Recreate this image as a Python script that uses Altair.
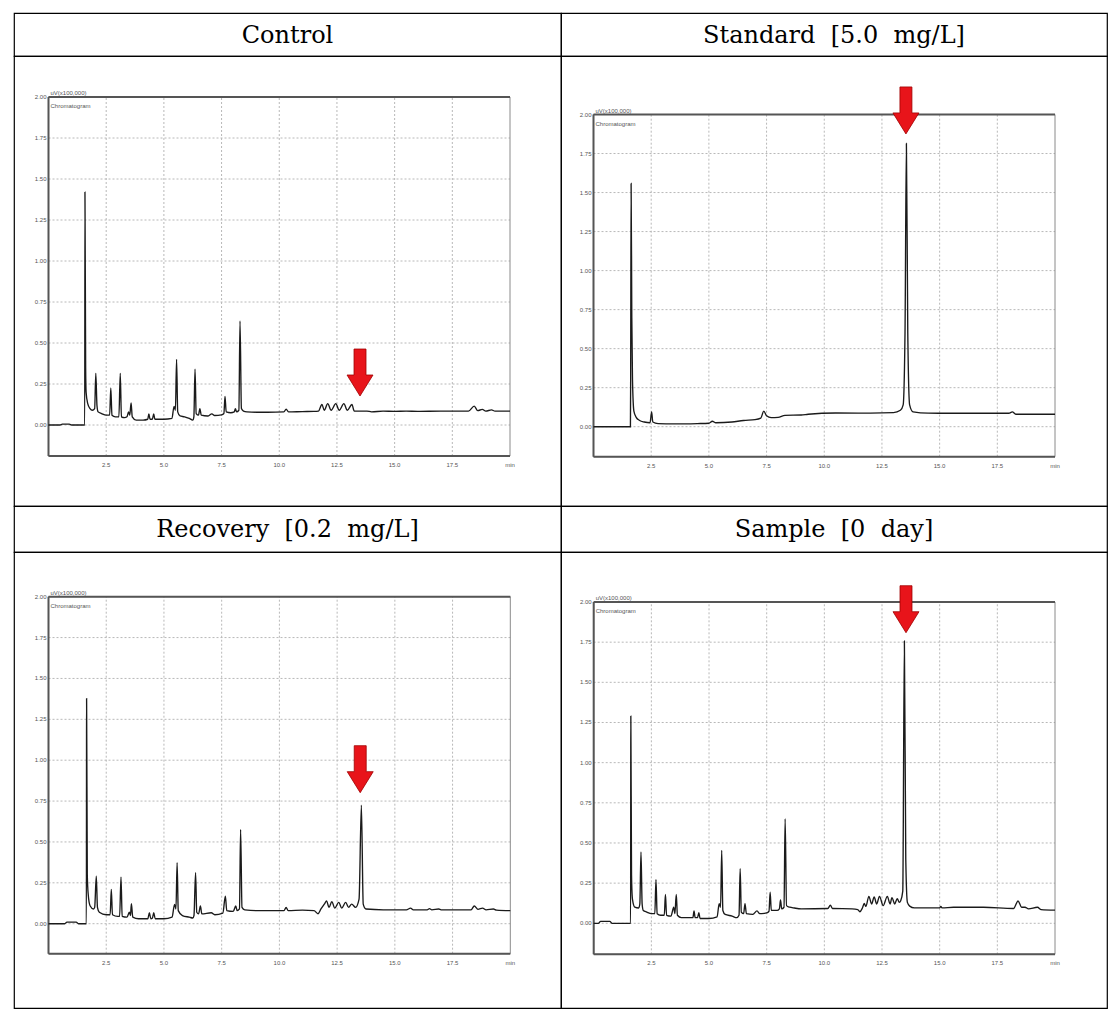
import altair as alt
import pandas as pd

# ---------------- data ----------------
titles = ["Control", "Standard\u00a0 [5.0\u00a0 mg/L]", "Recovery\u00a0 [0.2\u00a0 mg/L]", "Sample\u00a0 [0\u00a0 day]"]

control_t = [0.0, 0.5, 0.6, 0.9, 1.0, 1.57, 1.58, 1.61, 1.63, 1.7, 1.8, 1.9, 2.0, 2.05, 2.1, 2.15, 2.3, 2.5,
             2.65, 2.7, 2.75, 2.9, 3.05, 3.11, 3.16, 3.3, 3.4, 3.47, 3.52, 3.58, 3.63, 3.8, 4.1, 4.3, 4.35,
             4.4, 4.5, 4.56, 4.61, 5.0, 5.35, 5.44, 5.5, 5.55, 5.6, 5.7, 5.9, 6.1, 6.25, 6.3, 6.35, 6.4,
             6.5, 6.56, 6.62, 6.9, 7.08, 7.2, 7.5, 7.6, 7.65, 7.7, 7.9, 8.05, 8.1, 8.15, 8.25, 8.3, 8.36,
             8.45, 8.6, 9.0, 9.5, 10.2, 10.3, 10.4, 11.0, 11.5, 11.7, 11.85, 11.95, 12.1, 12.25, 12.45,
             12.6, 12.8, 12.95, 13.15, 13.25, 13.8, 14.0, 14.5, 15.0, 15.5, 16.0, 17.0, 18.2, 18.45, 18.6,
             18.8, 18.95, 19.2, 19.35, 20.0]
control_v = [0.0, 0.0, 0.005, 0.005, 0.0, 0.0, 1.42, 0.35, 0.2, 0.13, 0.10, 0.09, 0.1, 0.315, 0.12, 0.08,
             0.07, 0.06, 0.06, 0.226, 0.06, 0.05, 0.05, 0.315, 0.05, 0.045, 0.05, 0.08, 0.06, 0.134, 0.05,
             0.03, 0.03, 0.035, 0.068, 0.035, 0.035, 0.068, 0.035, 0.035, 0.04, 0.113, 0.09, 0.40, 0.08,
             0.055, 0.05, 0.04, 0.03, 0.05, 0.34, 0.07, 0.06, 0.10, 0.06, 0.055, 0.068, 0.058, 0.062, 0.07,
             0.175, 0.08, 0.075, 0.08, 0.10, 0.08, 0.09, 0.634, 0.10, 0.085, 0.08, 0.078, 0.078, 0.08,
             0.097, 0.08, 0.082, 0.083, 0.085, 0.125, 0.09, 0.13, 0.09, 0.13, 0.09, 0.13, 0.09, 0.125,
             0.085, 0.085, 0.08, 0.085, 0.083, 0.085, 0.083, 0.085, 0.085, 0.115, 0.088, 0.095, 0.085,
             0.092, 0.085, 0.085]

standard_t = [0.0, 1.6, 1.61, 1.63, 1.66, 1.69, 1.75, 1.85, 2.0, 2.2, 2.45, 2.52, 2.57, 2.8, 3.5, 4.5, 5.0,
              5.15, 5.3, 6.0, 6.5, 7.0, 7.25, 7.38, 7.5, 7.7, 8.0, 8.3, 9.0, 9.3, 10.5, 12.0, 13.0, 13.3,
              13.42, 13.5, 13.56, 13.62, 13.7, 13.85, 14.5, 16.0, 18.0, 18.15, 18.3, 20.0]
standard_v = [0.0, 0.0, 0.3, 1.558, 0.7, 0.3, 0.1, 0.06, 0.04, 0.03, 0.025, 0.094, 0.03, 0.02, 0.018, 0.02,
              0.022, 0.035, 0.025, 0.03, 0.04, 0.045, 0.055, 0.10, 0.07, 0.058, 0.06, 0.073, 0.075, 0.08,
              0.088, 0.087, 0.09, 0.105, 0.14, 0.6, 1.814, 0.6, 0.14, 0.095, 0.087, 0.086, 0.086, 0.095,
              0.08, 0.08]

recovery_t = [0.0, 0.7, 0.8, 1.2, 1.3, 1.64, 1.65, 1.68, 1.72, 1.8, 1.95, 2.0, 2.07, 2.12, 2.2, 2.5, 2.67,
              2.72, 2.77, 3.0, 3.08, 3.14, 3.19, 3.4, 3.5, 3.55, 3.59, 3.65, 3.9, 4.3, 4.37, 4.43, 4.5,
              4.56, 4.62, 5.0, 5.35, 5.46, 5.52, 5.57, 5.62, 5.8, 6.1, 6.25, 6.3, 6.37, 6.42, 6.5, 6.58,
              6.64, 7.05, 7.2, 7.55, 7.66, 7.72, 8.0, 8.11, 8.17, 8.27, 8.32, 8.38, 8.5, 9.0, 10.2, 10.29,
              10.38, 11.0, 11.5, 11.67, 11.8, 11.97, 12.04, 12.15, 12.27, 12.4, 12.57, 12.7, 12.87, 13.0,
              13.13, 13.3, 13.45, 13.55, 13.63, 13.75, 14.5, 15.5, 15.68, 15.8, 16.4, 16.5, 16.6, 16.9,
              17.0, 18.3, 18.44, 18.6, 18.8, 18.95, 19.27, 19.4, 20.0]
recovery_v = [0.0, 0.0, 0.01, 0.01, 0.0, 0.0, 1.377, 0.3, 0.18, 0.11, 0.09, 0.1, 0.291, 0.1, 0.07, 0.055,
              0.055, 0.21, 0.055, 0.045, 0.045, 0.285, 0.045, 0.04, 0.07, 0.05, 0.122, 0.04, 0.03, 0.03,
              0.067, 0.03, 0.035, 0.067, 0.03, 0.03, 0.04, 0.118, 0.09, 0.373, 0.08, 0.05, 0.04, 0.035,
              0.05, 0.312, 0.07, 0.06, 0.108, 0.06, 0.067, 0.055, 0.065, 0.169, 0.08, 0.075, 0.108, 0.08,
              0.09, 0.576, 0.1, 0.085, 0.08, 0.08, 0.10, 0.08, 0.083, 0.08, 0.061, 0.09, 0.125, 0.14, 0.1,
              0.135, 0.095, 0.13, 0.095, 0.13, 0.1, 0.12, 0.1, 0.15, 0.725, 0.12, 0.09, 0.085, 0.085,
              0.095, 0.085, 0.085, 0.092, 0.085, 0.09, 0.085, 0.085, 0.108, 0.088, 0.095, 0.085, 0.09,
              0.083, 0.08]

sample_t = [0.0, 0.2, 0.3, 0.7, 0.8, 1.6, 1.61, 1.64, 1.68, 1.78, 1.95, 2.0, 2.05, 2.1, 2.15, 2.3, 2.5, 2.65,
            2.7, 2.75, 2.9, 3.06, 3.11, 3.16, 3.35, 3.47, 3.52, 3.58, 3.63, 3.8, 4.3, 4.35, 4.4, 4.5, 4.56,
            4.61, 5.0, 5.35, 5.44, 5.5, 5.55, 5.6, 5.7, 6.0, 6.2, 6.3, 6.35, 6.4, 6.5, 6.56, 6.62, 6.9,
            7.08, 7.2, 7.5, 7.6, 7.65, 7.7, 7.95, 8.05, 8.1, 8.15, 8.25, 8.3, 8.36, 8.5, 8.7, 9.0, 10.15,
            10.26, 10.35, 11.2, 11.45, 11.54, 11.65, 11.73, 11.8, 11.93, 12.05, 12.16, 12.27, 12.39, 12.55,
            12.73, 12.85, 12.93, 13.05, 13.16, 13.25, 13.31, 13.4, 13.47, 13.53, 13.6, 13.7, 13.9, 15.0,
            15.05, 15.1, 15.6, 16.2, 16.9, 18.2, 18.4, 18.55, 18.7, 18.85, 19.24, 19.4, 20.0]
sample_v = [0.0, 0.0, 0.012, 0.012, 0.0, 0.0, 1.29, 0.3, 0.15, 0.10, 0.095, 0.12, 0.444, 0.12, 0.08, 0.07,
            0.06, 0.06, 0.272, 0.06, 0.05, 0.05, 0.18, 0.05, 0.045, 0.10, 0.06, 0.18, 0.05, 0.035, 0.035,
            0.077, 0.035, 0.035, 0.066, 0.03, 0.03, 0.04, 0.122, 0.1, 0.454, 0.08, 0.055, 0.045, 0.035,
            0.05, 0.34, 0.07, 0.06, 0.122, 0.06, 0.056, 0.077, 0.06, 0.065, 0.075, 0.193, 0.08, 0.08, 0.09,
            0.145, 0.09, 0.1, 0.651, 0.11, 0.1, 0.095, 0.09, 0.092, 0.113, 0.092, 0.09, 0.085, 0.072,
            0.095, 0.123, 0.105, 0.168, 0.12, 0.164, 0.12, 0.168, 0.11, 0.168, 0.12, 0.16, 0.12, 0.154,
            0.13, 0.14, 0.2, 1.757, 0.4, 0.13, 0.107, 0.096, 0.096, 0.105, 0.096, 0.1, 0.1, 0.1, 0.092,
            0.139, 0.1, 0.1, 0.09, 0.1, 0.085, 0.082]

traces = [(control_t, control_v), (standard_t, standard_v), (recovery_t, recovery_v), (sample_t, sample_v)]

y_ticks = [0.0, 0.25, 0.5, 0.75, 1.0, 1.25, 1.5, 1.75, 2.0]
y_tick_labels = ["0.00", "0.25", "0.50", "0.75", "1.00", "1.25", "1.50", "1.75", "2.00"]
x_ticks = [2.5, 5.0, 7.5, 10.0, 12.5, 15.0, 17.5, 20.0]
x_tick_labels = ["2.5", "5.0", "7.5", "10.0", "12.5", "15.0", "17.5", "min"]
grid_y = [0.0, 0.25, 0.5, 0.75, 1.0, 1.25, 1.5, 1.75]
grid_x = [2.5, 5.0, 7.5, 10.0, 12.5, 15.0, 17.5]

arrow_t = [13.5, 13.54, 13.5, 13.54]
arrow_v = [0.32, 2.026, 0.945, 1.955]

scale_note = "uV(x100,000)"
panel_note = "Chromatogram"

# ---------------- layout (page pixels) ----------------
# cell: cl, ct, cr, cb ; plot: pl, pr, pt (value 2.0), y0 (value 0), pb (bottom axis)
GEOM = [
    dict(cl=13, ct=55, cr=560, cb=505, pl=47.5, pr=509, pt=96, y0=424, pb=455),
    dict(cl=560, ct=55, cr=1106, cb=505, pl=592.5, pr=1054, pt=113.5, y0=425.7, pb=455.7),
    dict(cl=13, ct=551, cr=560, cb=1007, pl=47.5, pr=509.3, pt=595.7, y0=922.7, pb=952.7),
    dict(cl=560, ct=551, cr=1106, cb=1007, pl=592.7, pr=1054, pt=601, y0=922.3, pb=953.3),
]
HEAD = [(12, 55), (505, 551)]

ARROW = "M-0.255,-1L0.255,-1L0.255,0.106L0.553,0.106L0,1L-0.553,0.106L-0.255,0.106Z"


def panel(i):
    g = GEOM[i]
    ppm = (g["pr"] - g["pl"]) / 20.0
    ppu = (g["y0"] - g["pt"]) / 2.0
    ymin = -(g["pb"] - g["y0"]) / ppu
    xd = [-(g["pl"] - g["cl"]) / ppm, 20 + (g["cr"] - g["pr"]) / ppm]
    yd = [ymin - (g["cb"] - g["pb"]) / ppu, 2.0 + (g["pt"] - g["ct"]) / ppu]
    xs = alt.Scale(domain=xd, nice=False, zero=False)
    ys = alt.Scale(domain=yd, nice=False, zero=False)

    def X(f):
        return alt.X(f, type="quantitative", scale=xs, axis=None)

    def Y(f):
        return alt.Y(f, type="quantitative", scale=ys, axis=None)

    gh = alt.Chart(pd.DataFrame({"y": grid_y, "x": 0.0, "x2": 20.0})).mark_rule(
        color="#b8b8b8", strokeDash=[2, 2], strokeWidth=1).encode(x=X("x"), x2="x2", y=Y("y"))
    gv = alt.Chart(pd.DataFrame({"x": grid_x, "y": ymin, "y2": 2.0})).mark_rule(
        color="#b8b8b8", strokeDash=[2, 2], strokeWidth=1).encode(x=X("x"), y=Y("y"), y2="y2")
    frame = alt.Chart(pd.DataFrame({"x": [0.0], "x2": [20.0], "y": [ymin], "y2": [2.0]})).mark_rect(
        fill=None, stroke="#8a8a8a", strokeWidth=1).encode(x=X("x"), x2="x2", y=Y("y"), y2="y2")
    edges = pd.DataFrame({"x": [0.0, 0.0, 0.0], "x2": [20.0, 0.0, 20.0],
                          "y": [2.0, ymin, ymin], "y2": [2.0, 2.0, ymin]})
    edge = alt.Chart(edges).mark_rule(color="#555555", strokeWidth=2).encode(
        x=X("x"), x2="x2", y=Y("y"), y2="y2")
    t, v = traces[i]
    line = alt.Chart(pd.DataFrame({"t": t, "v": v})).mark_line(
        color="#1a1a1a", strokeWidth=1.35, interpolate="monotone").encode(x=X("t"), y=Y("v"))
    ylab = alt.Chart(pd.DataFrame({"y": y_ticks, "lab": y_tick_labels, "x": 0.0})).mark_text(
        align="right", baseline="middle", dx=-2, fontSize=6, color="#555", font="Liberation Sans").encode(
        x=X("x"), y=Y("y"), text="lab:N")
    xlab = alt.Chart(pd.DataFrame({"x": x_ticks, "lab": x_tick_labels, "y": ymin})).mark_text(
        align="center", baseline="top", dy=6, fontSize=6, color="#555", font="Liberation Sans").encode(
        x=X("x"), y=Y("y"), text="lab:N")
    note1 = alt.Chart(pd.DataFrame({"x": [0.0], "y": [2.0], "lab": [scale_note]})).mark_text(
        align="left", baseline="bottom", dx=2, dy=-1, fontSize=6, color="#555",
        font="Liberation Sans").encode(x=X("x"), y=Y("y"), text="lab:N")
    note2 = alt.Chart(pd.DataFrame({"x": [0.0], "y": [2.0], "lab": [panel_note]})).mark_text(
        align="left", baseline="top", dx=2, dy=6, fontSize=6, color="#555",
        font="Liberation Sans").encode(x=X("x"), y=Y("y"), text="lab:N")
    arrow = alt.Chart(pd.DataFrame({"t": [arrow_t[i]], "v": [arrow_v[i]]})).mark_point(
        shape=ARROW, filled=True, fill="#e8141a", stroke="#a00000", strokeWidth=0.8,
        size=2209, opacity=1).encode(x=X("t"), y=Y("v"))
    return alt.layer(gh, gv, frame, edge, line, ylab, xlab, note1, note2, arrow).properties(
        width=g["cr"] - g["cl"], height=g["cb"] - g["ct"])


def header(i):
    g = GEOM[i]
    r = HEAD[i // 2]
    w = g["cr"] - g["cl"]
    h = r[1] - r[0]
    return alt.Chart(pd.DataFrame({"label": [titles[i]]})).mark_text(
        font="DejaVu Serif", fontSize=24, color="black").encode(
        text="label:N", x=alt.value(w / 2), y=alt.value(h / 2 + 1)).properties(width=w, height=h)


cells = [header(0), header(1), panel(0), panel(1), header(2), header(3), panel(2), panel(3)]

chart = alt.concat(*cells, columns=2, spacing=0, align="each", bounds="flush").properties(
    padding={"left": 13, "top": 12, "right": 0, "bottom": 0},
    background="white",
).configure_view(stroke="black", strokeWidth=1.2).configure_concat(spacing=0)

chart.save("out.html", embed_options={"renderer": "svg", "actions": False})
